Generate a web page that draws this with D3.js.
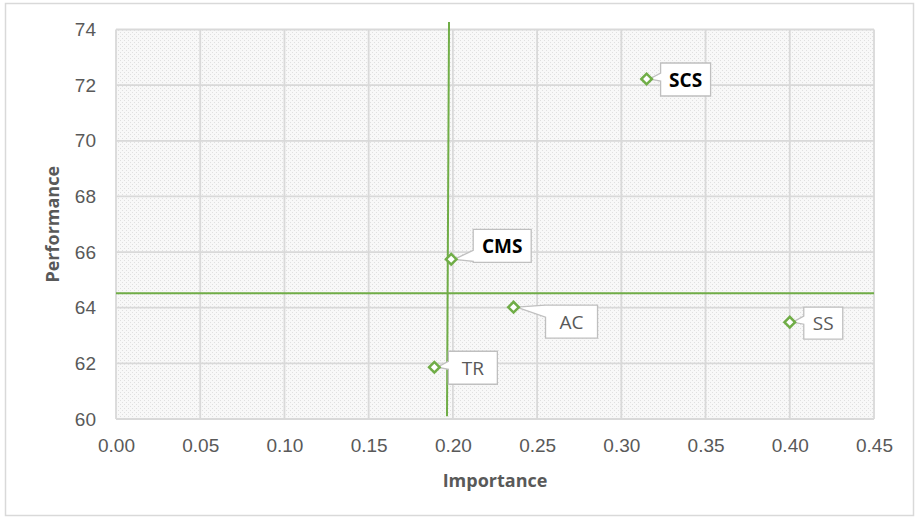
<!DOCTYPE html>
<html>
<head>
<meta charset="utf-8">
<script src="https://cdn.jsdelivr.net/npm/d3@7"></script>
<style>
  html, body { margin: 0; padding: 0; background: #fff; }
  svg { display: block; font-family: "Open Sans", "Noto Sans", sans-serif; }
</style>
</head>
<body>
<svg id="chart" width="919" height="520"></svg>
<script>
// ---- data ----
const labels      = ["SCS", "CMS", "AC", "SS", "TR"];
const importance  = [0.315, 0.199, 0.236, 0.400, 0.189];
const performance = [72.22, 65.74, 64.02, 63.48, 61.86];
const boldLabels  = ["SCS", "CMS"];
const xTicks = [0, 0.05, 0.10, 0.15, 0.20, 0.25, 0.30, 0.35, 0.40, 0.45];
const yTicks = [60, 62, 64, 66, 68, 70, 72, 74];
// reference lines (as drawn in the source chart)
const vLineX = [0.1977, 0.1965];
const vLineY = [74.27, 60.1];
const hLineX = [0, 0.45];
const hLineY = [64.52, 64.52];

// ---- layout ----
const svg = d3.select("#chart");
const W = 919, H = 520;
const plot = { left: 116, right: 874, top: 29.5, bottom: 419 };
const green = "#70ad47";
const textCol = "#595959";
const gridCol = "#d9d9d9";

const x = d3.scaleLinear().domain([0, 0.45]).range([plot.left, plot.right]);
const y = d3.scaleLinear().domain([60, 74]).range([plot.bottom, plot.top]);

// outer chart border
svg.append("rect").attr("x", 5.5).attr("y", 3.5).attr("width", W - 11).attr("height", H - 8)
  .attr("fill", "#fff").attr("stroke", "#d9d9d9").attr("stroke-width", 1.5);

// pattern background
const defs = svg.append("defs");
const pat = defs.append("pattern").attr("id", "dots").attr("patternUnits", "userSpaceOnUse")
  .attr("width", 4).attr("height", 4);
pat.append("rect").attr("width", 4).attr("height", 4).attr("fill", "#f8f8f8");
pat.append("rect").attr("x", 0).attr("y", 0).attr("width", 1).attr("height", 1).attr("fill", "#e0e0e0");
pat.append("rect").attr("x", 2).attr("y", 2).attr("width", 1).attr("height", 1).attr("fill", "#e0e0e0");

svg.append("rect").attr("x", plot.left).attr("y", plot.top)
  .attr("width", plot.right - plot.left).attr("height", plot.bottom - plot.top)
  .attr("fill", "url(#dots)");

// gridlines
const grid = svg.append("g");
grid.selectAll("line.v").data(xTicks).join("line")
  .attr("x1", d => x(d)).attr("x2", d => x(d))
  .attr("y1", plot.top).attr("y2", plot.bottom)
  .attr("stroke", gridCol).attr("stroke-width", 1.8);
grid.selectAll("line.h").data(yTicks).join("line")
  .attr("x1", plot.left).attr("x2", plot.right)
  .attr("y1", d => y(d)).attr("y2", d => y(d))
  .attr("stroke", gridCol).attr("stroke-width", 1.8);

// axes (labels only)
const xAxis = d3.axisBottom(x).tickValues(xTicks).tickFormat(d3.format(".2f")).tickSize(0).tickPadding(20);
const gx = svg.append("g").attr("transform", `translate(0,${plot.bottom})`).call(xAxis);
gx.select(".domain").remove();
gx.selectAll("text").attr("fill", textCol).style("font-size", "19px");

const yAxis = d3.axisLeft(y).tickValues(yTicks).tickFormat(d3.format("d")).tickSize(0).tickPadding(20);
const gy = svg.append("g").attr("transform", `translate(${plot.left},0)`).call(yAxis);
gy.select(".domain").remove();
gy.selectAll("text").attr("fill", textCol).style("font-size", "19px");

// axis titles
svg.append("text").attr("x", (plot.left + plot.right) / 2).attr("y", 487)
  .attr("text-anchor", "middle").attr("fill", textCol)
  .style("font-size", "18px").style("font-weight", "bold").text("Importance");
svg.append("text").attr("transform", `translate(59,${(plot.top + plot.bottom) / 2}) rotate(-90)`)
  .attr("text-anchor", "middle").attr("fill", textCol)
  .style("font-size", "18px").style("font-weight", "bold").text("Performance");

// reference lines
svg.append("line")
  .attr("x1", x(vLineX[0])).attr("y1", y(vLineY[0]))
  .attr("x2", x(vLineX[1])).attr("y2", y(vLineY[1]))
  .attr("stroke", green).attr("stroke-width", 2);
svg.append("line")
  .attr("x1", x(hLineX[0])).attr("y1", y(hLineY[0]))
  .attr("x2", x(hLineX[1])).attr("y2", y(hLineY[1]))
  .attr("stroke", green).attr("stroke-width", 2);

// callouts
const pts = labels.map((l, i) => ({ label: l, x: importance[i], y: performance[i] }));
const calloutLayout = {
  SCS: { dx: 14, dy: -16, w: 50, h: 33 },
  CMS: { dx: 22, dy: -30, w: 58, h: 33 },
  AC:  { dx: 32, dy: -2,  w: 52, h: 33 },
  SS:  { dx: 14, dy: -15, w: 39, h: 32 },
  TR:  { dx: 14, dy: -16, w: 49, h: 33 }
};
const cg = svg.append("g");
pts.forEach(p => {
  const px = x(p.x), py = y(p.y);
  const c = calloutLayout[p.label];
  const L = px + c.dx, T = py + c.dy, R = L + c.w, B = T + c.h;
  const a1 = Math.max(T, Math.min(B, py - 6)), a2 = Math.max(T, Math.min(B, py + 2));
  const path = `M${px + 3},${py} L${L},${Math.min(a1, B - 12)} L${L},${T} L${R},${T} L${R},${B} L${L},${B} L${L},${Math.max(a2, T + 12)} Z`;
  cg.append("path").attr("d", path)
    .attr("fill", "#fff").attr("stroke", "#bfbfbf").attr("stroke-width", 1.3)
    .attr("stroke-linejoin", "miter");
  const bold = boldLabels.includes(p.label);
  cg.append("text").attr("x", (L + R) / 2).attr("y", (T + B) / 2 + 7)
    .attr("text-anchor", "middle")
    .attr("fill", bold ? "#000" : textCol)
    .style("font-size", "19px").style("font-weight", bold ? "bold" : "normal")
    .text(p.label);
});

// markers
svg.append("g").selectAll("path").data(pts).join("path")
  .attr("d", d3.symbol().type(d3.symbolSquare).size(56))
  .attr("transform", d => `translate(${x(d.x)},${y(d.y)}) rotate(45)`)
  .attr("fill", "#fff").attr("stroke", green).attr("stroke-width", 2.5);
</script>
</body>
</html>
